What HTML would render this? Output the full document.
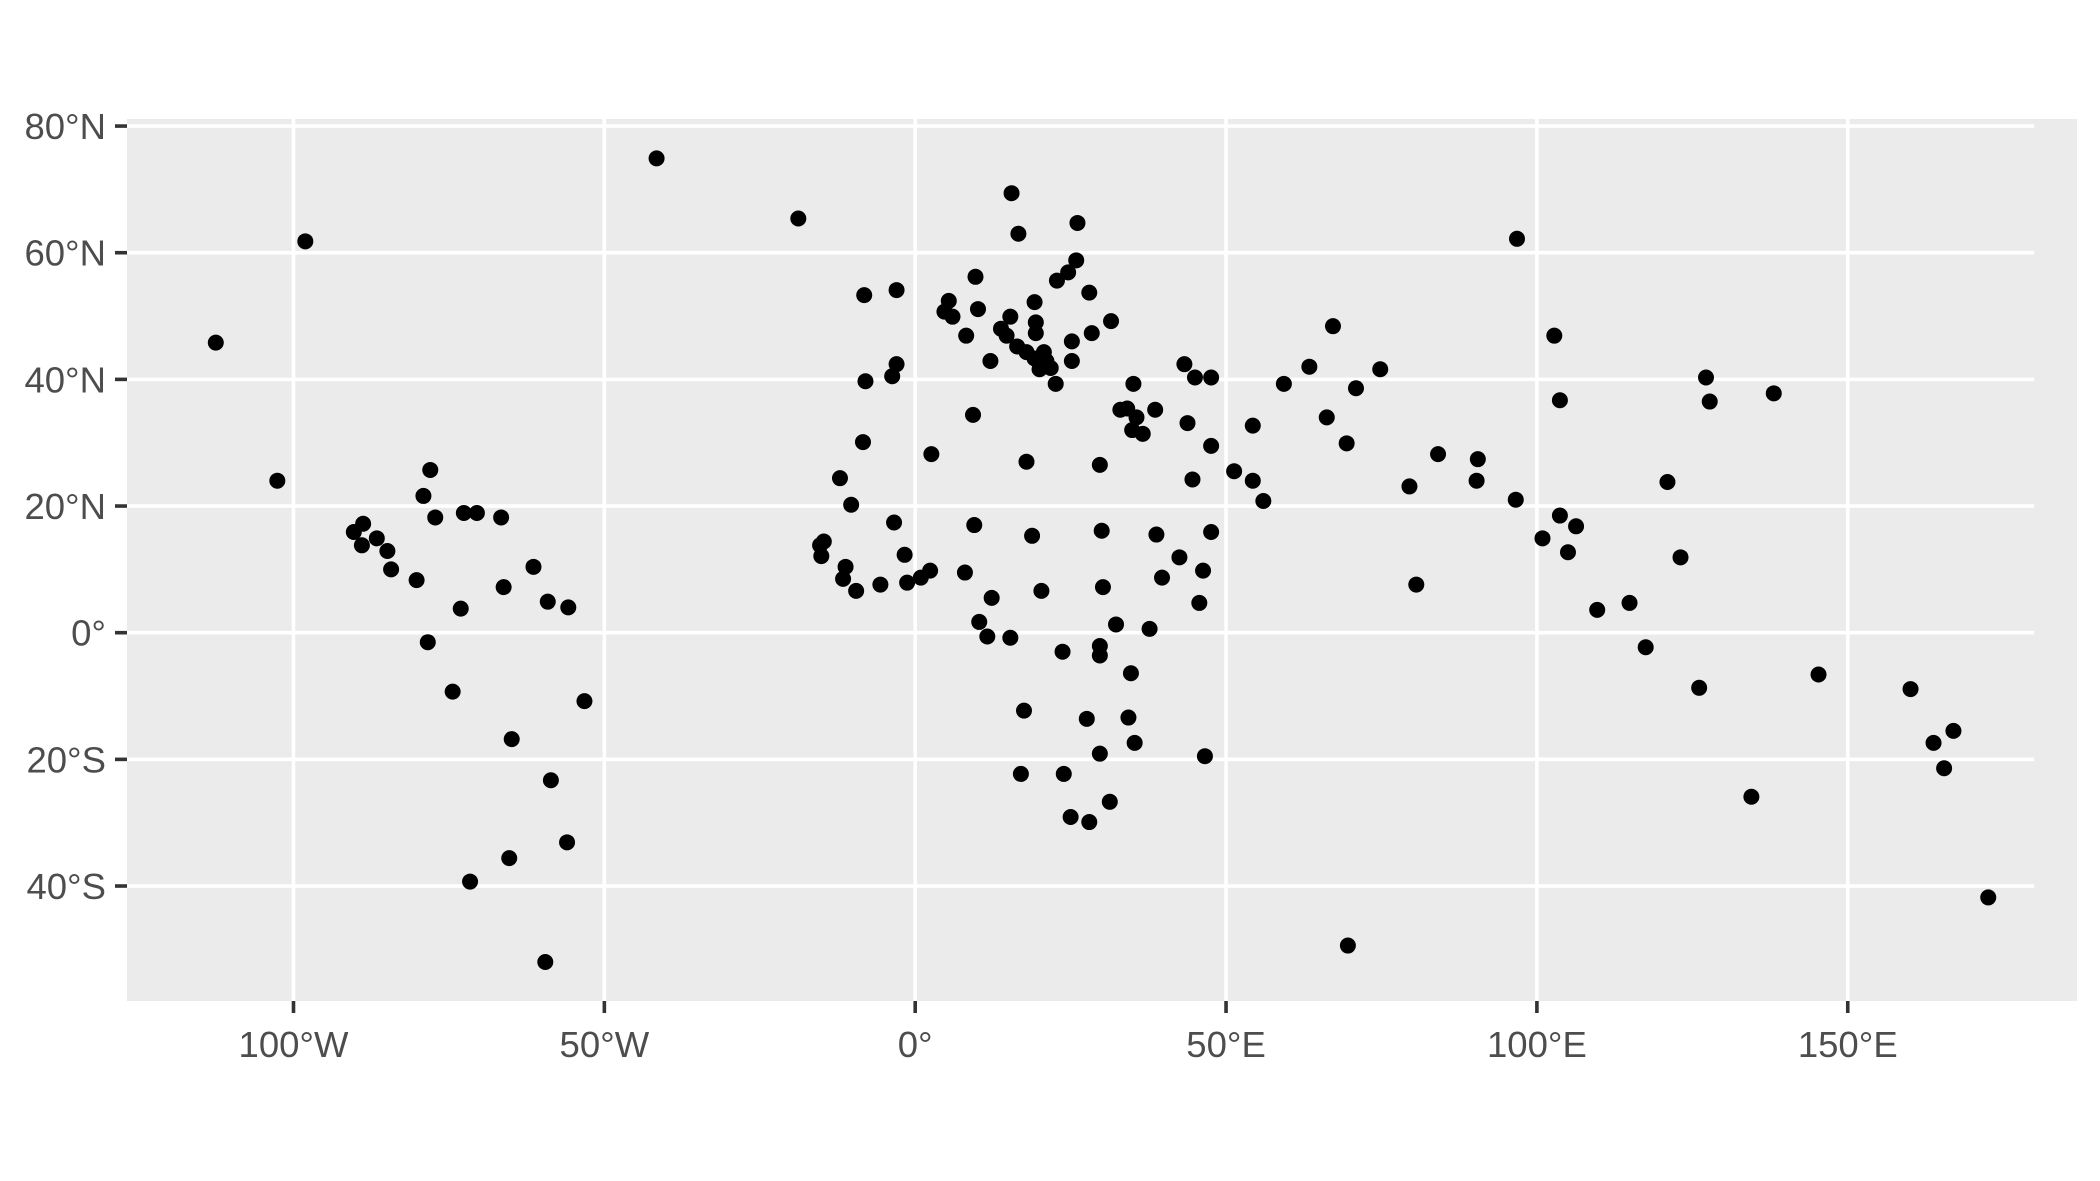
<!DOCTYPE html>
<html><head><meta charset="utf-8"><style>
html,body{margin:0;padding:0;background:#fff}
svg text{font-family:"Liberation Sans",sans-serif;font-size:36.5px;fill:#4d4d4d}
</style></head><body>
<svg id="chart" width="2100" height="1176" xmlns="http://www.w3.org/2000/svg">
<rect x="127" y="119" width="1950" height="882" fill="#ebebeb"/>
<g id="grid"></g><g id="ticks"></g><g id="points"></g>
</svg>
<script>
const lonTicks=[-100,-50,0,50,100,150];
const lonLabels=["100°W","50°W","0°","50°E","100°E","150°E"];
const latTicks=[80,60,40,20,0,-20,-40];
const latLabels=["80°N","60°N","40°N","20°N","0°","20°S","40°S"];
const lons=[-112.5,-102.6,-98.1,-41.6,-18.8,-90.3,-88.8,-89.0,-86.6,-84.9,-84.3,-80.2,-79.1,-78.0,-77.2,-78.4,-73.1,-74.4,-72.6,-70.5,-66.6,-66.2,-61.4,-59.1,-55.8,-53.2,-64.9,-58.6,-56.0,-65.3,-71.6,-59.5,
-8.2,-3.0,-3.0,-3.7,-8.0,-8.4,2.6,-12.1,-10.3,-15.3,-14.7,-15.1,-11.2,-11.6,-9.5,-5.6,-3.4,-1.7,-1.3,0.9,2.4,8.0,9.5,9.3,9.7,10.1,5.4,4.7,6.0,8.2,12.1,13.8,14.7,15.3,15.5,16.6,16.4,17.9,19.2,19.4,19.4,19.2,20.0,20.7,21.1,21.8,22.6,17.9,18.8,20.3,10.3,12.3,11.6,15.3,17.5,17.0,23.7,23.9,25.0,28.0,27.6,29.7,31.3,34.3,35.3,34.7,29.7,29.7,30.2,32.3,30.0,29.7,37.7,39.7,38.8,42.5,45.7,46.3,46.6,47.6,47.6,44.6,43.8,43.3,45.0,47.6,51.3,54.3,54.3,56.0,59.3,63.4,66.2,67.2,69.4,70.9,74.8,69.6,79.5,80.6,84.1,90.5,90.3,96.6,96.8,102.8,103.7,100.9,103.7,106.3,105.0,109.7,114.9,117.5,121.0,123.1,126.1,127.2,127.8,134.5,138.1,145.3,160.1,163.8,167.0,165.5,172.6,
22.8,24.6,25.9,26.1,28.0,28.4,25.2,25.2,31.5,35.1,33.0,34.1,35.6,34.9,36.6,38.6];
const lats=[45.8,24.0,61.8,74.9,65.4,15.9,17.2,13.8,14.9,12.9,10.0,8.3,21.6,25.7,18.2,-1.5,3.8,-9.3,18.9,18.9,18.2,7.2,10.4,4.9,4.0,-10.8,-16.8,-23.3,-33.1,-35.6,-39.3,-52.0,
53.3,54.1,42.4,40.5,39.7,30.1,28.2,24.4,20.2,13.8,14.4,12.1,10.4,8.5,6.6,7.6,17.4,12.3,7.9,8.7,9.8,9.5,17.0,34.4,56.2,51.1,52.4,50.7,49.9,46.9,42.9,48.0,46.9,49.9,69.4,63.0,45.2,44.3,52.2,49.0,47.3,43.3,41.6,44.3,42.9,41.8,39.3,27.0,15.3,6.6,1.7,5.5,-0.6,-0.8,-12.3,-22.3,-3.0,-22.3,-29.1,-29.9,-13.6,-19.1,-26.7,-13.4,-17.4,-6.4,-2.1,-3.6,7.2,1.3,16.1,26.5,0.6,8.7,15.5,11.9,4.7,9.8,-19.5,15.9,29.5,24.2,33.1,42.4,40.3,40.3,25.5,32.7,24.0,20.8,39.3,42.0,34.0,48.4,29.9,38.6,41.6,-49.4,23.1,7.6,28.2,27.4,24.0,21.0,62.2,46.9,36.7,14.9,18.5,16.8,12.7,3.6,4.7,-2.3,23.8,11.9,-8.7,40.3,36.5,-25.9,37.8,-6.6,-8.9,-17.4,-15.5,-21.4,-41.8,
55.6,56.9,58.8,64.7,53.7,47.3,46.0,42.9,49.2,39.3,35.2,35.4,34.0,32.0,31.4,35.2];
const NS="http://www.w3.org/2000/svg";
function xs(lon){return 915.2+lon*6.217;}
function ys(lat){return 632.7-lat*6.333;}
function mk(tag,attrs,parent){const e=document.createElementNS(NS,tag);for(const k in attrs)e.setAttribute(k,attrs[k]);document.getElementById(parent).appendChild(e);return e;}
lonTicks.forEach((v,i)=>{
 const g=mk('line',{x1:xs(v),x2:xs(v),y1:119,y2:1001,stroke:'#fff','stroke-width':3.6},'grid');
 
 
 const t=mk('line',{x1:xs(v),x2:xs(v),y1:1001,y2:1013,stroke:'#333','stroke-width':3.6},'ticks');
 
 
 const l=mk('text',{x:xs(v),y:1057,'text-anchor':'middle'},'ticks');l.textContent=lonLabels[i];
 
 
});
latTicks.forEach((v,i)=>{
 const g=mk('line',{x1:127,x2:xs(180),y1:ys(v),y2:ys(v),stroke:'#fff','stroke-width':3.6},'grid');
 
 
 const t=mk('line',{x1:115,x2:127,y1:ys(v),y2:ys(v),stroke:'#333','stroke-width':3.6},'ticks');
 
 
 const l=mk('text',{x:106,y:ys(v)+13,'text-anchor':'end'},'ticks');l.textContent=latLabels[i];
 
 
});
lons.forEach((lo,i)=>{
 const c=mk('circle',{cx:xs(lo),cy:ys(lats[i]),r:8,fill:'#000'},'points');
 
 
});
</script>
</body></html>
